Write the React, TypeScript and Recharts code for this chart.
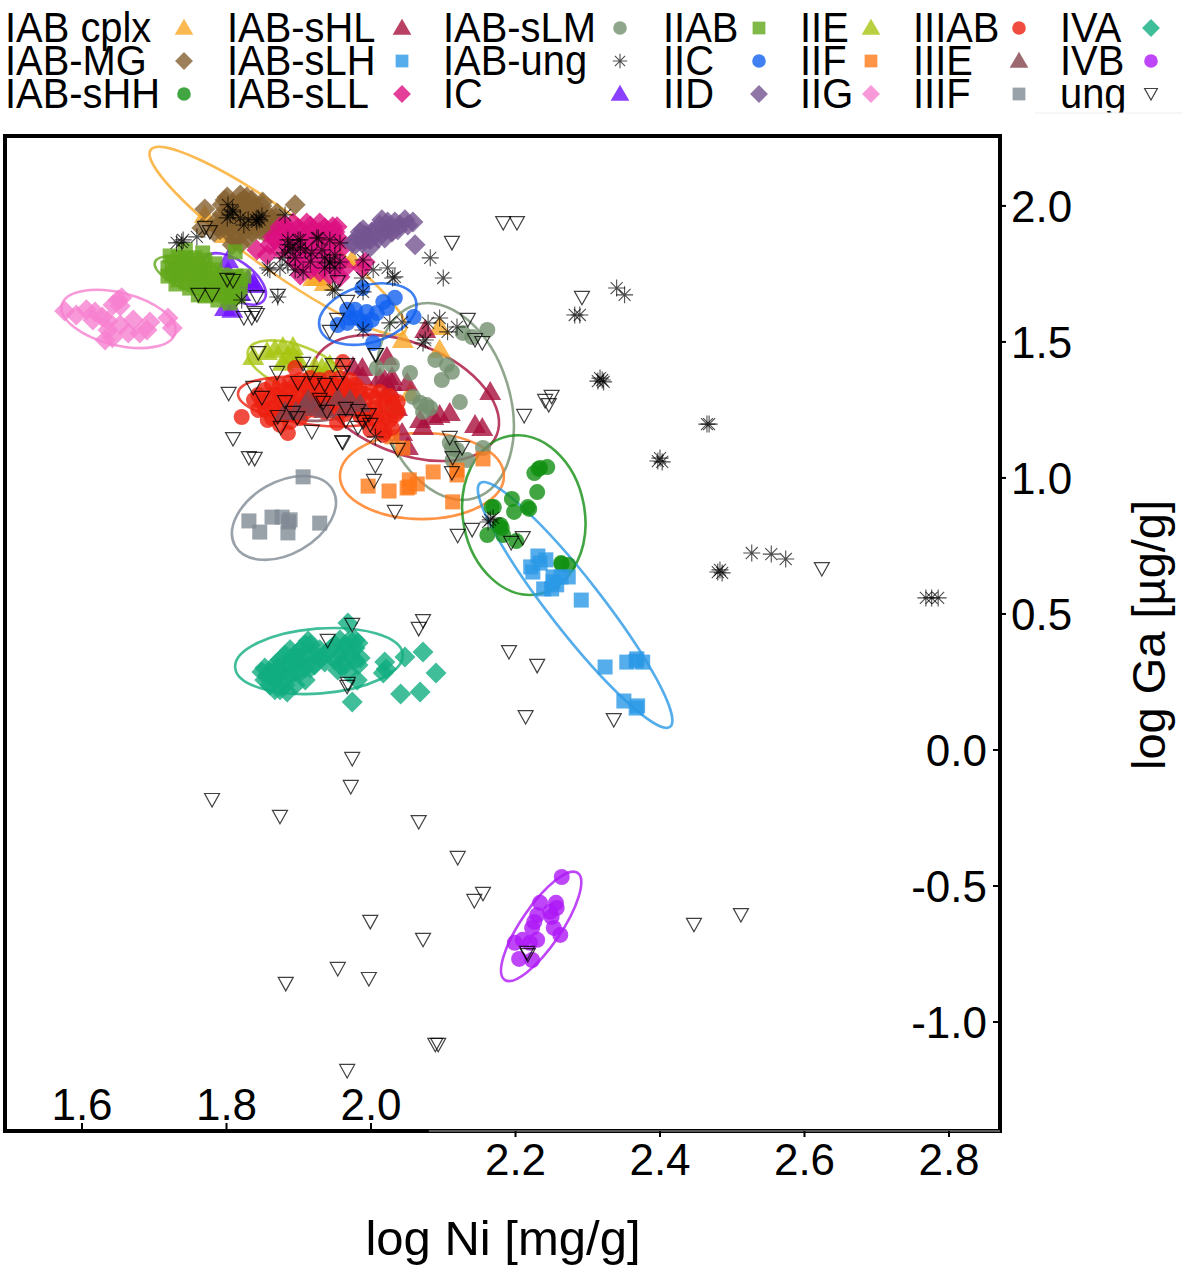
import {
  ComposedChart,
  Scatter,
  XAxis,
  YAxis,
  ReferenceArea,
  ReferenceLine,
} from "recharts";

type Pt = [number, number];
type Kind = "tri" | "dia" | "cir" | "sq" | "star" | "inv";

// [log Ni, log Ga]
const iabCplx: Pt[] = [[1.798,1.893],[1.770,1.967],[1.840,2.000],[1.936,1.717],[1.974,1.801],[1.950,1.845],[2.044,1.507],[2.095,1.555],[2.095,1.471],[1.925,1.735],[2.054,1.312],[1.920,1.735]];
const iabMg: Pt[] = [[1.770,1.989],[1.895,2.004],[1.801,2.033],[1.819,2.040],[1.828,2.033],[1.850,2.014],[1.870,1.974],[1.766,1.919],[1.787,1.923],[1.808,2.004],[1.819,2.014],[1.830,2.004],[1.841,1.993],[1.802,1.978],[1.813,1.978],[1.824,1.970],[1.835,1.970],[1.846,1.978],[1.857,1.967],[1.797,1.949],[1.808,1.941],[1.819,1.941],[1.830,1.934],[1.841,1.941],[1.852,1.941],[1.863,1.949],[1.791,1.912],[1.802,1.904],[1.813,1.897],[1.824,1.904],[1.835,1.904],[1.846,1.912],[1.857,1.919],[1.812,1.875],[1.808,1.857],[1.874,1.941],[1.798,2.022],[1.794,2.004],[1.824,2.022],[1.835,2.022],[1.802,1.930],[1.785,1.941],[1.783,1.904],[1.819,1.919],[1.830,1.963],[1.841,1.963],[1.852,1.963],[1.863,1.926],[1.868,1.956],[1.813,1.996],[1.824,1.993],[1.835,1.993],[1.808,1.963],[1.819,1.970],[1.849,2.000],[1.830,1.882],[1.819,1.860],[1.835,1.930],[1.852,1.904],[1.794,1.970]];
const iabSHH: Pt[] = [[2.234,1.037],[2.244,1.040],[2.226,1.018],[2.230,.948],[2.195,.923],[2.217,.893],[2.219,.886],[2.198,.875],[2.170,.893],[2.167,.893],[2.179,.827],[2.181,.816],[2.161,.790],[2.183,.790],[2.201,.768],[2.264,.684],[2.273,.680],[2.232,1.033],[2.177,.823],[2.263,.687]];
const iabSHL: Pt[] = [[2.075,1.544],[2.022,1.445],[1.988,1.404],[1.975,1.408],[1.988,1.371],[2.012,1.367],[2.029,1.371],[2.029,1.349],[2.026,1.323],[2.050,1.349],[2.165,1.316],[2.095,1.231],[2.109,1.239],[2.086,1.224],[2.068,1.213],[2.072,1.187],[2.043,1.165],[2.051,1.114],[2.144,1.195],[2.154,1.184],[2.036,1.257],[2.019,1.360]];
const iabSLH: Pt[] = [[2.231,.713],[2.242,.699],[2.234,.687],[2.221,.673],[2.224,.654],[2.273,.636],[2.263,.636],[2.252,.636],[2.257,.607],[2.239,.592],[2.250,.592],[2.252,.618],[2.291,.551],[2.324,.305],[2.354,.323],[2.368,.335],[2.376,.323],[2.367,.327],[2.350,.180],[2.369,.162],[2.367,.154]];
const iabSLL: Pt[] = [[1.842,1.838],[1.856,1.820],[1.902,1.746],[1.864,1.886],[1.874,1.923],[1.892,1.937],[1.911,1.937],[1.929,1.937],[1.947,1.923],[1.953,1.923],[1.992,1.794],[1.874,1.893],[1.888,1.904],[1.902,1.904],[1.916,1.904],[1.929,1.904],[1.943,1.893],[1.881,1.864],[1.895,1.864],[1.909,1.864],[1.922,1.864],[1.936,1.857],[1.950,1.875],[1.888,1.831],[1.902,1.820],[1.916,1.827],[1.929,1.820],[1.943,1.820],[1.957,1.838],[1.909,1.794],[1.922,1.783],[1.936,1.783],[1.950,1.772],[1.957,1.794],[1.957,1.739],[1.860,1.857],[1.988,1.772],[1.881,1.930],[1.899,1.919],[1.916,1.926],[1.936,1.919],[1.867,1.875],[1.881,1.904],[1.895,1.886],[1.909,1.886],[1.922,1.886],[1.936,1.886],[1.950,1.904],[1.874,1.838],[1.902,1.845],[1.916,1.849],[1.929,1.845],[1.943,1.845],[1.957,1.875],[1.895,1.794],[1.902,1.783],[1.916,1.765],[1.929,1.757],[1.943,1.746],[1.964,1.772]];
const iabSLM: Pt[] = [[2.161,1.544],[2.140,1.518],[2.127,1.533],[2.089,1.434],[2.105,1.415],[2.112,1.390],[2.098,1.360],[2.029,1.415],[2.008,1.404],[2.054,1.386],[2.123,1.279],[2.058,1.298],[2.068,1.276],[2.077,1.268],[2.072,1.243],[2.082,1.257],[2.030,1.257],[2.109,1.129],[2.119,1.103],[2.133,1.066],[2.113,1.066],[2.155,1.110],[2.112,1.110]];
const iabUng: Pt[] = [[1.738,1.867],[1.740,1.875],[1.731,1.864],[1.759,1.886],[1.808,1.985],[1.805,1.967],[1.801,1.956],[1.819,1.956],[1.830,1.949],[1.844,1.956],[1.846,1.949],[1.842,1.941],[1.881,1.967],[1.857,1.772],[1.874,1.772],[1.885,1.783],[1.881,1.827],[1.892,1.849],[1.902,1.875],[1.925,1.882],[1.906,1.757],[1.918,1.827],[1.943,1.790],[1.947,1.691],[1.821,1.654],[1.871,1.665],[1.860,1.765],[1.885,1.857],[1.899,1.875],[1.927,1.882],[1.943,1.794],[1.957,1.864],[1.989,1.801],[2.003,1.765],[2.023,1.772],[2.030,1.735],[2.033,1.739],[1.988,1.735],[2.082,1.809],[2.100,1.735],[1.950,1.691],[1.989,1.684],[2.026,1.570],[2.043,1.573],[2.079,1.570],[2.095,1.588],[2.106,1.537],[2.119,1.555],[2.072,1.496],[2.075,1.507],[1.989,1.544],[2.282,1.599],[2.289,1.599],[2.340,1.698],[2.351,1.673],[2.314,1.356],[2.320,1.360],[2.322,1.353],[2.317,1.367],[2.465,1.198],[2.468,1.198],[2.397,1.062],[2.400,1.073],[2.403,1.059],[2.480,.654],[2.486,.651],[2.483,.662],[2.527,.724],[2.554,.720],[2.574,.702],[2.768,.559],[2.776,.559],[2.785,.559],[2.165,.846],[2.162,.838],[2.169,.853],[2.006,1.151],[1.877,1.809],[1.888,1.838],[1.895,1.809],[1.902,1.845],[1.885,1.875],[1.909,1.838],[1.916,1.794],[1.895,1.765],[1.936,1.809],[1.950,1.820],[1.957,1.794],[1.950,1.772],[1.943,1.875],[1.936,1.772],[1.932,1.838],[1.809,1.978],[1.841,1.949],[1.849,1.963],[1.824,1.930],[1.802,2.004]];
const ic: Pt[] = [[1.802,1.801],[1.837,1.717],[1.830,1.728],[1.819,1.680],[1.808,1.618],[1.798,1.625],[1.839,1.709],[1.802,1.757]];
const iiab: Pt[] = [[1.725,1.794],[1.733,1.809],[1.743,1.809],[1.749,1.801],[1.719,1.772],[1.729,1.772],[1.738,1.779],[1.749,1.772],[1.761,1.783],[1.770,1.772],[1.780,1.765],[1.725,1.750],[1.736,1.746],[1.747,1.746],[1.758,1.746],[1.769,1.742],[1.780,1.735],[1.791,1.728],[1.733,1.728],[1.744,1.720],[1.756,1.717],[1.770,1.713],[1.784,1.706],[1.798,1.709],[1.808,1.698],[1.743,1.794],[1.763,1.757],[1.813,1.742],[1.805,1.673],[1.770,1.669],[1.761,1.673],[1.780,1.673],[1.743,1.838],[1.767,1.827],[1.812,1.831],[1.808,1.665],[1.819,1.702],[1.805,1.643],[1.794,1.684],[1.722,1.816],[1.756,1.809],[1.770,1.801],[1.784,1.787],[1.719,1.742],[1.763,1.728],[1.777,1.720],[1.794,1.746],[1.805,1.735],[1.819,1.728],[1.730,1.713],[1.784,1.684],[1.749,1.698],[1.799,1.669],[1.816,1.669],[1.788,1.654],[1.824,1.742]];
const iic: Pt[] = [[1.988,1.698],[2.033,1.662],[2.017,1.647],[2.022,1.625],[1.967,1.618],[1.978,1.618],[2.059,1.592],[1.954,1.562],[1.967,1.570],[1.981,1.588],[1.989,1.573],[2.001,1.581],[2.008,1.606],[1.994,1.610],[2.003,1.496],[1.971,1.588],[1.992,1.562]];
const iid: Pt[] = [[1.974,1.864],[1.982,1.882],[1.992,1.893],[1.988,1.864],[1.999,1.875],[2.001,1.904],[2.010,1.882],[2.019,1.912],[2.012,1.930],[2.026,1.919],[2.033,1.941],[2.040,1.930],[2.051,1.930],[2.058,1.941],[2.019,1.882],[1.999,1.849],[2.061,1.857],[1.989,1.912],[2.015,1.949],[2.047,1.949],[1.996,1.882],[2.006,1.904],[2.029,1.904],[2.037,1.912],[1.978,1.857],[1.985,1.904],[2.023,1.941]];
const iie: Pt[] = [[1.837,1.445],[1.856,1.463],[1.867,1.471],[1.878,1.481],[1.892,1.481],[1.892,1.452],[1.878,1.423],[1.922,1.408],[1.943,1.415],[1.885,1.445],[1.899,1.434],[1.932,1.404]];
const iif: Pt[] = [[1.996,.970],[2.025,.952],[2.053,.967],[2.064,.978],[2.086,1.022],[2.119,1.011],[2.113,.912],[2.155,1.070],[2.044,1.110],[2.029,1.151],[2.053,.993],[2.050,.963],[2.119,1.029]];
const iig: Pt[] = [[1.576,1.614],[1.592,1.599],[1.606,1.618],[1.618,1.610],[1.615,1.581],[1.628,1.592],[1.636,1.577],[1.650,1.654],[1.643,1.636],[1.655,1.662],[1.653,1.632],[1.636,1.544],[1.642,1.515],[1.653,1.562],[1.671,1.581],[1.664,1.533],[1.680,1.533],[1.690,1.544],[1.694,1.573],[1.719,1.588],[1.725,1.551],[1.632,1.507]];
const iiiab: Pt[] = [[1.844,1.305],[1.853,1.323],[1.863,1.342],[1.874,1.342],[1.888,1.353],[1.902,1.360],[1.916,1.367],[1.929,1.360],[1.943,1.367],[1.957,1.367],[1.971,1.360],[1.849,1.279],[1.860,1.294],[1.874,1.305],[1.888,1.316],[1.902,1.316],[1.916,1.323],[1.929,1.316],[1.943,1.323],[1.957,1.323],[1.971,1.323],[1.985,1.323],[1.853,1.250],[1.867,1.257],[1.881,1.268],[1.895,1.268],[1.909,1.279],[1.922,1.287],[1.936,1.279],[1.950,1.279],[1.964,1.279],[1.978,1.287],[1.992,1.287],[2.006,1.294],[2.019,1.294],[1.863,1.220],[1.881,1.231],[1.895,1.231],[1.909,1.243],[1.922,1.250],[1.936,1.243],[1.957,1.250],[1.978,1.250],[1.992,1.250],[2.006,1.257],[2.019,1.268],[2.030,1.276],[1.992,1.213],[2.006,1.213],[2.019,1.220],[2.012,1.184],[2.026,1.213],[2.019,1.169],[1.999,1.176],[1.874,1.195],[1.885,1.165],[1.821,1.224],[1.895,1.404],[1.961,1.426],[1.953,1.202],[2.017,1.158],[1.838,1.287],[1.844,1.250],[1.857,1.213],[1.867,1.305],[1.881,1.323],[1.895,1.342],[1.909,1.342],[1.922,1.342],[1.936,1.342],[1.950,1.342],[1.964,1.342],[1.978,1.342],[1.888,1.287],[1.902,1.294],[1.916,1.298],[1.929,1.298],[1.943,1.301],[1.957,1.301],[1.971,1.301],[1.985,1.301],[1.999,1.316],[2.012,1.316],[2.026,1.301],[2.037,1.279],[1.874,1.250],[1.888,1.250],[1.902,1.257],[1.916,1.268],[1.929,1.265],[1.943,1.257],[1.971,1.265],[1.985,1.228],[1.999,1.235],[2.012,1.243],[2.033,1.231],[1.902,1.220],[1.888,1.206],[1.863,1.257],[1.964,1.235],[2.029,1.184],[2.037,1.243]];
const iiie: Pt[] = [[1.896,1.243],[1.909,1.268],[1.922,1.257],[1.936,1.250],[1.954,1.294],[1.971,1.287],[1.964,1.257],[1.985,1.272],[1.881,1.243],[1.913,1.287]];
const iiif: Pt[] = [[1.906,1.004],[1.831,.842],[1.846,.801],[1.863,.856],[1.877,.856],[1.886,.838],[1.885,.798],[1.929,.834],[1.888,.846]];
const iva: Pt[] = [[1.968,.467],[1.913,.401],[1.982,.393],[1.974,.176],[2.047,.342],[2.072,.360],[2.090,.283],[2.041,.206],[2.068,.213],[2.019,.323],[2.017,.283],[2.021,.298],[1.981,.257],[1.860,.287],[1.867,.312],[1.874,.331],[1.881,.349],[1.888,.368],[1.895,.349],[1.902,.368],[1.909,.386],[1.916,.386],[1.929,.368],[1.943,.368],[1.957,.404],[1.971,.404],[1.978,.375],[1.964,.368],[1.978,.331],[1.964,.312],[1.950,.331],[1.936,.323],[1.922,.312],[1.909,.301],[1.895,.287],[1.881,.265],[1.867,.257],[1.860,.239],[1.874,.221],[1.884,.213],[1.895,.239],[1.909,.257],[1.888,.312],[1.902,.331],[1.874,.287],[1.957,.312],[1.985,.338],[1.957,.349],[1.929,.338],[1.954,.294],[1.867,.276],[1.853,.257],[1.849,.287],[1.881,.312],[1.895,.323],[1.909,.349],[1.922,.349],[1.936,.349],[1.964,.386],[1.950,.386],[1.971,.349],[1.888,.276],[1.902,.287],[1.916,.301],[1.881,.239],[1.867,.221],[1.857,.276],[1.978,.404],[1.982,.312],[1.968,.287],[1.892,.338],[1.871,.301],[1.853,.301]];
const ivb: Pt[] = [[2.264,-.467],[2.234,-.562],[2.256,-.562],[2.257,-.581],[2.248,-.595],[2.230,-.607],[2.226,-.632],[2.223,-.654],[2.253,-.654],[2.262,-.680],[2.230,-.698],[2.220,-.709],[2.210,-.698],[2.199,-.709],[2.205,-.768],[2.223,-.772],[2.250,-.614]];
const ung: Pt[] = [[1.770,1.919],[1.777,1.904],[1.761,1.673],[1.780,1.673],[1.801,1.728],[1.809,1.724],[1.842,1.665],[1.871,1.669],[1.824,1.588],[1.839,1.606],[1.842,1.599],[1.835,1.588],[1.844,1.459],[2.112,1.864],[2.183,1.937],[2.202,1.937],[1.954,1.720],[1.967,1.647],[1.953,1.581],[1.943,1.537],[2.134,1.581],[2.144,1.507],[2.154,1.496],[2.006,1.452],[1.803,1.309],[1.809,1.143],[1.831,1.073],[1.839,1.070],[1.849,1.294],[1.837,1.331],[1.870,1.386],[1.881,1.279],[1.871,1.224],[1.892,1.239],[1.898,1.220],[1.875,1.184],[1.918,1.169],[1.906,1.419],[1.916,1.386],[1.899,1.349],[1.922,1.349],[1.936,1.342],[1.953,1.349],[1.947,1.415],[1.961,1.386],[1.967,1.415],[1.929,1.287],[1.939,1.243],[1.934,1.276],[1.965,1.254],[1.982,1.246],[1.965,1.209],[1.997,1.231],[1.989,1.206],[1.999,1.195],[1.982,1.184],[1.960,1.132],[1.961,1.129],[2.007,1.452],[2.006,1.044],[2.004,.989],[2.037,1.103],[2.109,1.147],[2.126,1.110],[2.113,1.073],[2.112,1.018],[2.033,.875],[2.140,.809],[2.120,.787],[2.210,.779],[2.194,.761],[2.191,.360],[2.230,.309],[2.214,.121],[2.336,.110],[1.974,.460],[1.940,.401],[2.072,.474],[2.066,.445],[1.968,.243],[1.967,.232],[1.780,-.184],[1.874,-.246],[1.974,-.033],[1.972,-.136],[2.066,-.265],[2.120,-.397],[2.155,-.529],[2.143,-.555],[1.999,-.632],[2.072,-.698],[1.954,-.805],[1.997,-.842],[1.882,-.860],[1.967,-1.180],[2.089,-1.084],[2.093,-1.084],[2.447,-.643],[2.512,-.607],[2.624,.665],[2.216,-.746],[2.217,-.754],[2.292,1.662],[2.212,1.228],[2.241,1.283],[2.250,1.298],[2.246,1.268]];

// major axis ends of each group ellipse, then minor/major ratio
const ellipses: { group: string; ends: [number, number, number, number]; ratio: number }[] = [
  { group: "IAB cplx", ends: [1.695, 2.206, 2.047, 1.537], ratio: 0.186 },
  { group: "IC", ends: [1.770, 1.809, 1.852, 1.654], ratio: 0.5 },
  { group: "IIAB", ends: [1.701, 1.794, 1.826, 1.673], ratio: 0.33 },
  { group: "IIG", ends: [1.572, 1.636, 1.729, 1.533], ratio: 0.45 },
  { group: "IIE", ends: [1.830, 1.470, 1.964, 1.342], ratio: 0.43 },
  { group: "IAB-sHL", ends: [1.922, 1.430, 2.174, 1.158], ratio: 0.56 },
  { group: "IAB-sLM", ends: [2.061, 1.636, 2.144, 0.926], ratio: 0.64 },
  { group: "IIC", ends: [1.929, 1.551, 2.062, 1.654], ratio: 0.57 },
  { group: "IIF", ends: [1.957, 1.007, 2.184, 1.007], ratio: 0.525 },
  { group: "IIIF", ends: [1.812, 0.750, 1.947, 0.956], ratio: 0.64 },
  { group: "IIIAB", ends: [1.816, 1.312, 2.033, 1.250], ratio: 0.3 },
  { group: "IIIE", ends: [1.878, 1.243, 1.988, 1.268], ratio: 0.3 },
  { group: "IAB-sHH", ends: [2.191, 1.154, 2.232, 0.573], ratio: 0.757 },
  { group: "IAB-sLH", ends: [2.151, 0.981, 2.414, 0.085], ratio: 0.17 },
  { group: "IVA", ends: [1.812, 0.303, 2.044, 0.351], ratio: 0.386 },
  { group: "IVB", ends: [2.185, -0.845, 2.286, -0.452], ratio: 0.31 },
];

const xTicks = [1.6, 1.8, 2.0, 2.2, 2.4, 2.6, 2.8];
const yTicks = [-1.0, -0.5, 0.0, 0.5, 1.0, 1.5, 2.0];
const X_MIN = 1.4934;
const X_MAX = 2.8706;
const Y_MIN = -1.4007;
const Y_MAX = 2.257;

const FONT = "'Liberation Sans', Arial, sans-serif";
// recharts hands ticks their position already pushed away from the axis by this much
const TICK_OFFSET = 8;

const groups: Record<string, { kind: Kind; color: string; points: Pt[] }> = {
  "IAB cplx": { kind: "tri", color: "#f9a825", points: iabCplx },
  "IAB-MG": { kind: "dia", color: "#85602f", points: iabMg },
  "IAB-sHH": { kind: "cir", color: "#119011", points: iabSHH },
  "IAB-sHL": { kind: "tri", color: "#a80f3c", points: iabSHL },
  "IAB-sLH": { kind: "sq", color: "#2a98e6", points: iabSLH },
  "IAB-sLL": { kind: "dia", color: "#dc0f80", points: iabSLL },
  "IAB-sLM": { kind: "cir", color: "#73906f", points: iabSLM },
  "IAB-ung": { kind: "star", color: "#000000", points: iabUng },
  IC: { kind: "tri", color: "#6f10ff", points: ic },
  IIAB: { kind: "sq", color: "#62a81a", points: iiab },
  IIC: { kind: "cir", color: "#1060f0", points: iic },
  IID: { kind: "dia", color: "#745491", points: iid },
  IIE: { kind: "tri", color: "#a8c410", points: iie },
  IIF: { kind: "sq", color: "#ff7818", points: iif },
  IIG: { kind: "dia", color: "#f67fd0", points: iig },
  IIIAB: { kind: "cir", color: "#ec2010", points: iiiab },
  IIIE: { kind: "tri", color: "#83434e", points: iiie },
  IIIF: { kind: "sq", color: "#7f8a94", points: iiif },
  IVA: { kind: "dia", color: "#10ac80", points: iva },
  IVB: { kind: "cir", color: "#ae18f6", points: ivb },
  ung: { kind: "inv", color: "#000000", points: ung },
};

const drawOrder = ["IAB cplx", "IAB-MG", "IAB-sHH", "IAB-sHL", "IAB-sLH", "IAB-sLL", "IAB-sLM", "IC", "IIAB", "IIC", "IID", "IIE", "IIF", "IIG", "IIIAB", "IIIE", "IIIF", "IVA", "IVB", "IAB-ung", "ung"];

const legendColumns = [
  { textX: 5, markX: 184, names: ["IAB cplx", "IAB-MG", "IAB-sHH"] },
  { textX: 227, markX: 402, names: ["IAB-sHL", "IAB-sLH", "IAB-sLL"] },
  { textX: 443, markX: 620, names: ["IAB-sLM", "IAB-ung", "IC"] },
  { textX: 663, markX: 759, names: ["IIAB", "IIC", "IID"] },
  { textX: 800, markX: 871, names: ["IIE", "IIF", "IIG"] },
  { textX: 913, markX: 1019, names: ["IIIAB", "IIIE", "IIIF"] },
  { textX: 1060, markX: 1151, names: ["IVA", "IVB", "ung"] },
];

function Marker({ cx, cy, kind, color, s = 1 }: { cx: number; cy: number; kind: Kind; color: string; s?: number }) {
  if (kind === "tri") {
    return <polygon points={`${cx},${cy - 11 * s} ${cx + 11 * s},${cy + 8 * s} ${cx - 11 * s},${cy + 8 * s}`} fill={color} fillOpacity={0.8} />;
  }
  if (kind === "dia") {
    return <polygon points={`${cx},${cy - 10.5 * s} ${cx + 10.5 * s},${cy} ${cx},${cy + 10.5 * s} ${cx - 10.5 * s},${cy}`} fill={color} fillOpacity={0.8} />;
  }
  if (kind === "cir") {
    return <circle cx={cx} cy={cy} r={8 * s} fill={color} fillOpacity={0.8} />;
  }
  if (kind === "sq") {
    return <rect x={cx - 7.5 * s} y={cy - 7.5 * s} width={15 * s} height={15 * s} fill={color} fillOpacity={0.8} />;
  }
  if (kind === "star") {
    const r = 8.5 * s;
    const d = r * 0.707;
    return (
      <path
        d={`M${cx - r},${cy}L${cx + r},${cy}M${cx},${cy - r}L${cx},${cy + r}M${cx - d},${cy - d}L${cx + d},${cy + d}M${cx - d},${cy + d}L${cx + d},${cy - d}`}
        stroke={color}
        strokeOpacity={0.7}
        strokeWidth={1.1}
        fill="none"
      />
    );
  }
  return (
    <polygon
      points={`${cx - 7.5 * s},${cy - 6.5 * s} ${cx + 7.5 * s},${cy - 6.5 * s} ${cx},${cy + 7 * s}`}
      fill="none"
      stroke={color}
      strokeOpacity={0.75}
      strokeWidth={1.2}
    />
  );
}

function XTick({ x, y: rawY, payload }: any) {
  const y = rawY - TICK_OFFSET;
  const inside = payload.value <= 2.0;
  return (
    <g>
      <line x1={x} x2={x} y1={inside ? y - 8 : y} y2={inside ? y : y + 6} stroke="#000" strokeWidth={2} />
      <text x={x} y={inside ? y - 11 : y + 44} textAnchor="middle" fontFamily={FONT} fontSize={44} fill="#000">
        {payload.value.toFixed(1)}
      </text>
    </g>
  );
}

function YTick({ x: rawX, y, payload }: any) {
  const x = rawX - TICK_OFFSET;
  const inside = payload.value <= 0;
  return (
    <g>
      <line x1={inside ? x - 7 : x} x2={inside ? x : x + 6} y1={y} y2={y} stroke="#000" strokeWidth={2} />
      <text x={inside ? x - 13 : x + 11} y={y + 16} textAnchor={inside ? "end" : "start"} fontFamily={FONT} fontSize={44} fill="#000">
        {payload.value.toFixed(1)}
      </text>
    </g>
  );
}

function EllipseShape({ x, y, width, height, ratio, rising, color }: any) {
  const cx = x + width / 2;
  const cy = y + height / 2;
  const a = Math.hypot(width, height) / 2;
  const angle = (Math.atan2(rising ? -height : height, width) * 180) / Math.PI;
  return (
    <ellipse
      cx={cx}
      cy={cy}
      rx={a}
      ry={a * ratio}
      transform={`rotate(${angle} ${cx} ${cy})`}
      fill="none"
      stroke={color}
      strokeOpacity={0.8}
      strokeWidth={2.6}
    />
  );
}

function FrameShape({ x, y, width, height }: any) {
  return <rect x={x} y={y} width={width} height={height} fill="none" stroke="#000" strokeWidth={4} />;
}

function LegendBlock() {
  return (
    <g>
      {legendColumns.map((col) =>
        col.names.map((name, row) => (
          <g key={name}>
            <text
              transform={`translate(${col.textX},${42 + row * 33}) scale(0.95,1)`}
              fontFamily={FONT}
              fontSize={42}
              fill="#000"
            >
              {name}
            </text>
            <Marker cx={col.markX} cy={28 + row * 33} kind={groups[name].kind} color={groups[name].color} s={0.85} />
          </g>
        )),
      )}
      <rect x={1035} y={113} width={147} height={8} fill="#fff" />
      <line x1={1035} x2={1182} y1={113} y2={113} stroke="#eee" strokeWidth={1} />
    </g>
  );
}

export default function App() {
  return (
    <div style={{ position: "absolute", left: 0, top: 0, width: 1182, height: 1269, background: "#fff" }}>
      <ComposedChart width={1182} height={1269} margin={{ top: 136, right: 181, bottom: 137, left: 5 }}>
        <XAxis
          type="number"
          dataKey="x"
          domain={[X_MIN, X_MAX]}
          ticks={xTicks}
          interval={0}
          height={1}
          axisLine={false}
          tickLine={false}
          tick={(p: any) => <XTick {...p} />}
        />
        <YAxis
          type="number"
          dataKey="y"
          orientation="right"
          domain={[Y_MIN, Y_MAX]}
          ticks={yTicks}
          interval={0}
          width={1}
          axisLine={false}
          tickLine={false}
          tick={(p: any) => <YTick {...p} />}
        />

        <ReferenceArea x1={X_MIN} x2={X_MAX} y1={Y_MIN} y2={Y_MAX} shape={<FrameShape />} />
        <ReferenceLine
          segment={[
            { x: 2.08, y: Y_MIN },
            { x: X_MAX, y: Y_MIN },
          ]}
          stroke="#777"
          strokeWidth={1.5}
        />

        {ellipses.map((e) => (
          <ReferenceArea
            key={e.group}
            x1={e.ends[0]}
            x2={e.ends[2]}
            y1={e.ends[1]}
            y2={e.ends[3]}
            shape={<EllipseShape ratio={e.ratio} rising={e.ends[3] > e.ends[1]} color={groups[e.group].color} />}
          />
        ))}

        {drawOrder.map((name) => {
          const g = groups[name];
          return (
            <Scatter
              key={name}
              name={name}
              data={g.points.map(([x, y]) => ({ x, y }))}
              isAnimationActive={false}
              shape={(p: any) => <Marker cx={p.cx} cy={p.cy} kind={g.kind} color={g.color} />}
            />
          );
        })}

        <LegendBlock />
        <text x={503} y={1255} textAnchor="middle" fontFamily={FONT} fontSize={49} fill="#000">
          log Ni [mg/g]
        </text>
        <text
          transform="translate(1165,635) rotate(-90)"
          textAnchor="middle"
          fontFamily={FONT}
          fontSize={47}
          fill="#000"
        >
          log Ga [µg/g]
        </text>
      </ComposedChart>
    </div>
  );
}
